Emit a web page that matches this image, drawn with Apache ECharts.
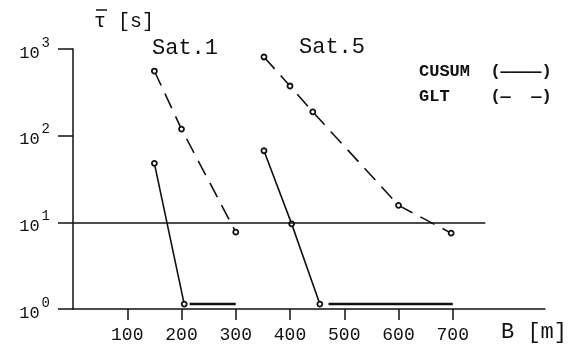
<!DOCTYPE html>
<html>
<head>
<meta charset="utf-8">
<script src="https://cdn.jsdelivr.net/npm/echarts@6/dist/echarts.min.js"></script>
<style>
  html, body { margin: 0; padding: 0; background: #fff; }
  #chart { width: 577px; height: 348px; }
</style>
</head>
<body>
<div id="chart"></div>
<script>
// values: [B in m, tau in s]
const sat1Cusum = [[150, 48], [205, 1.14]];
const sat1CusumTail = [[215, 1.14], [300, 1.14]];
const sat1Glt = [[150, 557], [200, 119], [300, 7.7]];
const sat5Cusum = [[352, 67], [403, 9.6], [455, 1.14]];
const sat5CusumTail = [[471, 1.14], [700, 1.14]];
const sat5Glt = [[352, 809], [400, 374], [442, 188], [600, 15.7], [697, 7.5]];
const xTicks = [100, 200, 300, 400, 500, 600, 700];
const thresholdLine = 10;

const mono = '"Liberation Mono", "DejaVu Sans Mono", monospace';
const ink = '#111';

function lineSeries(data, dashed, showSymbol, width) {
  return {
    type: 'line',
    data: data,
    symbol: 'circle',
    symbolSize: 5,
    showSymbol: showSymbol,
    itemStyle: { color: '#fff', borderColor: ink, borderWidth: 1.8 },
    lineStyle: { color: ink, width: width || 1.6, type: dashed ? [16, 9] : 'solid' },
    silent: true
  };
}

const chart = echarts.init(document.getElementById('chart'));
chart.setOption({
  animation: false,
  grid: { left: 73, top: 49, right: 32, bottom: 39 },
  xAxis: {
    type: 'value',
    min: 0,
    max: 870,
    axisLine: { lineStyle: { color: ink, width: 1.5 } },
    axisTick: { show: true, length: 11, customValues: xTicks, lineStyle: { color: ink, width: 1.5 } },
    axisLabel: { customValues: xTicks, margin: 17, fontFamily: mono, fontSize: 18, color: ink },
    splitLine: { show: false }
  },
  yAxis: {
    type: 'log',
    logBase: 10,
    min: 1,
    max: 1000,
    axisLine: { show: true, lineStyle: { color: ink, width: 1.5 } },
    axisTick: { show: true, length: 15, lineStyle: { color: ink, width: 1.5 } },
    axisLabel: {
      margin: 23,
      formatter: function (v) {
        return '{b|10}{s|' + Math.round(Math.log10(v)) + '}';
      },
      rich: {
        b: { fontFamily: mono, fontSize: 17, color: ink, padding: [8, 2, 0, 0] },
        s: { fontFamily: mono, fontSize: 14, color: ink, padding: [0, 0, 12, 0] }
      }
    },
    splitLine: { show: false }
  },
  graphic: [
    { type: 'text', left: 94, top: 12, style: { text: 'τ [s]', font: '20px ' + mono, fill: ink } },
    { type: 'line', shape: { x1: 96, y1: 10, x2: 107, y2: 10 }, style: { stroke: ink, lineWidth: 1.5 } },
    { type: 'text', left: 152, top: 37, style: { text: 'Sat.1', font: '22px ' + mono, fill: ink } },
    { type: 'text', left: 299, top: 36, style: { text: 'Sat.5', font: '22px ' + mono, fill: ink } },
    { type: 'text', left: 419, top: 63, style: { text: 'CUSUM  (————)', font: 'bold 17px ' + mono, fill: ink } },
    { type: 'text', left: 419, top: 88, style: { text: 'GLT    (—  —)', font: 'bold 17px ' + mono, fill: ink } },
    { type: 'text', left: 501, top: 321, style: { text: 'B [m]', font: '22px ' + mono, fill: ink } }
  ],
  series: [
    lineSeries(sat1Cusum, false, true),
    lineSeries(sat1CusumTail, false, false, 2.5),
    lineSeries(sat1Glt, true, true),
    lineSeries(sat5Cusum, false, true),
    lineSeries(sat5CusumTail, false, false, 2.5),
    lineSeries(sat5Glt, true, true),
    {
      type: 'line',
      data: [],
      silent: true,
      markLine: {
        symbol: 'none',
        silent: true,
        label: { show: false },
        lineStyle: { color: ink, width: 1.5, type: 'solid' },
        data: [[{ coord: [0, thresholdLine] }, { coord: [760, thresholdLine] }]]
      }
    }
  ]
});
</script>
</body>
</html>
